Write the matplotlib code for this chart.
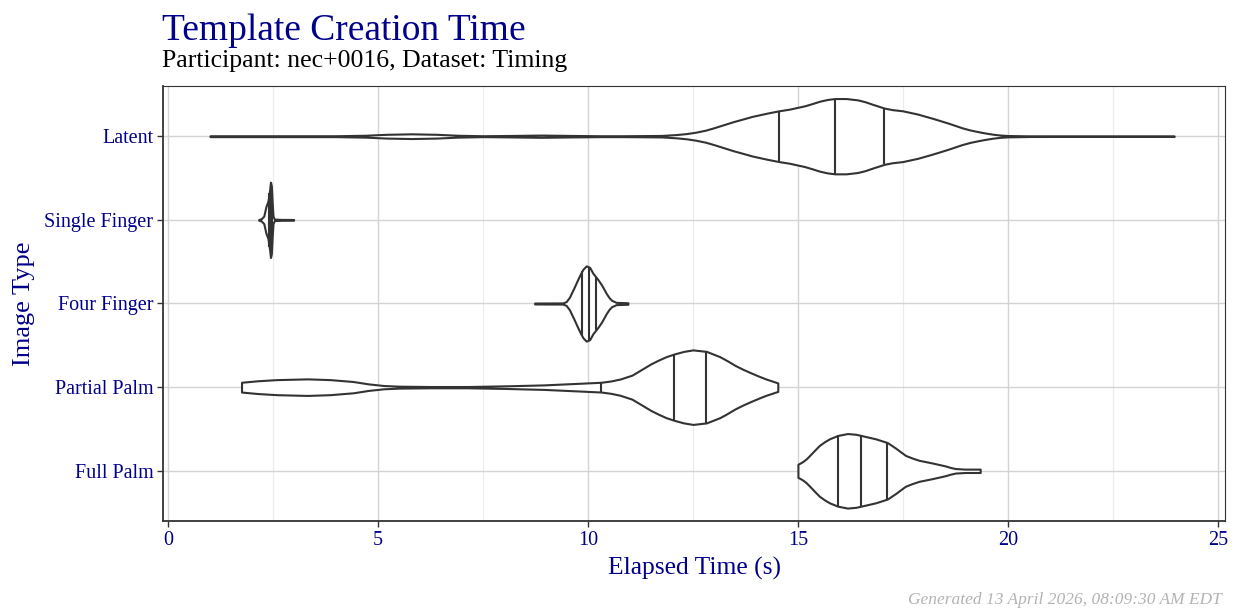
"""Violin plot of template creation time per image type"""
import matplotlib
matplotlib.use('Agg')
import matplotlib.pyplot as plt
import numpy as np

# categories, bottom to top
categories = ['Full Palm', 'Partial Palm', 'Four Finger', 'Single Finger', 'Latent']

# violin outlines: time (s) and relative half-width (max = 1)
latent_x = [1.0, 2.5, 4.0, 4.7, 5.2, 5.8, 6.4, 6.9, 7.5, 8.2, 8.9, 9.6, 10.3, 10.8,
            11.22, 11.76, 12.11, 12.35, 12.56, 12.8, 13.01, 13.23, 13.46, 13.7, 13.91,
            14.27, 14.55, 14.80, 15.16, 15.35, 15.52, 15.7, 15.88, 16.15, 16.42, 16.6,
            16.77, 17.06, 17.25, 17.49, 17.85, 18.21, 18.57, 18.92, 19.1, 19.28, 19.46,
            19.64, 19.82, 20.0, 20.54, 22.0, 23.96]
latent_w = [0.012, 0.012, 0.012, 0.025, 0.05, 0.063, 0.05, 0.025, 0.012, 0.02, 0.03,
            0.02, 0.012, 0.012, 0.015, 0.02, 0.044, 0.07, 0.105, 0.16, 0.228, 0.305,
            0.386, 0.46, 0.526, 0.614, 0.675, 0.719, 0.807, 0.87, 0.93, 0.975, 1.0,
            1.0, 0.965, 0.915, 0.85, 0.746, 0.705, 0.675, 0.588, 0.474, 0.35, 0.219,
            0.165, 0.123, 0.085, 0.053, 0.03, 0.018, 0.008, 0.006, 0.005]

single_x = [2.16, 2.22, 2.28, 2.33, 2.38, 2.42, 2.44, 2.46, 2.48, 2.50, 2.53, 2.7, 2.99]
single_w = [0.01, 0.03, 0.1, 0.35, 0.5, 0.8, 1.0, 0.9, 0.45, 0.1, 0.02, 0.012, 0.01]

four_x = [8.73, 9.40, 9.48, 9.56, 9.62, 9.68, 9.74, 9.80, 9.88, 9.96, 10.04, 10.12,
          10.24, 10.32, 10.38, 10.44, 10.50, 10.56, 10.67, 10.95]
four_w = [0.012, 0.015, 0.05, 0.17, 0.31, 0.45, 0.6, 0.74, 0.91, 1.0, 0.96, 0.8, 0.63,
          0.5, 0.38, 0.26, 0.16, 0.087, 0.03, 0.02]

partial_x = [1.75, 2.14, 2.59, 3.32, 3.86, 4.41, 4.77, 5.14, 5.5, 6.23, 7.14, 8.05,
             8.95, 10.0, 10.32, 10.55, 10.77, 11.05, 11.32, 11.5, 11.68, 11.86, 12.05,
             12.28, 12.5, 12.82, 13.14, 13.32, 13.5, 13.68, 13.86, 14.05, 14.23, 14.52]
partial_w = [0.13, 0.17, 0.2, 0.22, 0.2, 0.15, 0.087, 0.043, 0.026, 0.017, 0.017, 0.035,
             0.06, 0.113, 0.13, 0.165, 0.217, 0.32, 0.5, 0.62, 0.72, 0.81, 0.88, 0.95,
             0.99, 0.95, 0.81, 0.7, 0.58, 0.48, 0.39, 0.3, 0.22, 0.113]

full_x = [15.0, 15.06, 15.12, 15.2, 15.28, 15.4, 15.51, 15.63, 15.75, 15.95, 16.18,
          16.38, 16.5, 16.85, 17.13, 17.33, 17.45, 17.56, 17.72, 17.88, 18.19, 18.51,
          18.63, 18.75, 18.98, 19.34]
full_w = [0.175, 0.21, 0.25, 0.32, 0.41, 0.55, 0.675, 0.77, 0.85, 0.94, 0.99, 0.97,
          0.94, 0.85, 0.75, 0.6, 0.5, 0.41, 0.34, 0.28, 0.21, 0.13, 0.09, 0.06,
          0.045, 0.045]

# quartiles (25%, 50%, 75%)
quartiles = {
    'Full Palm': [15.95, 16.5, 17.13],
    'Partial Palm': [10.32, 12.05, 12.82],
    'Four Finger': [9.86, 10.02, 10.18],
    'Single Finger': [2.41, 2.44, 2.47],
    'Latent': [14.55, 15.88, 17.06],
}

x_ticks = [0, 5, 10, 15, 20, 25]

profiles = {
    'Full Palm': (full_x, full_w),
    'Partial Palm': (partial_x, partial_w),
    'Four Finger': (four_x, four_w),
    'Single Finger': (single_x, single_w),
    'Latent': (latent_x, latent_w),
}

NAVY = '#00008B'
EDGE = '#333333'
FONT = 'Liberation Serif'
HALF = 0.45  # max half width of a violin

fig = plt.figure(figsize=(12.33, 6.11), dpi=100)
ax = fig.add_axes([163 / 1233, 1 - 521 / 611, 1062 / 1233, 435 / 611])

for pos, name in enumerate(categories, start=1):
    xs, ws = profiles[name]
    xs = np.array(xs)
    ws = np.array(ws) * HALF
    ax.fill_between(xs, pos - ws, pos + ws, facecolor='white', edgecolor=EDGE,
                    linewidth=1.5, joinstyle='round', zorder=3)
    for q in quartiles[name]:
        wq = np.interp(q, xs, ws)
        ax.vlines(q, pos - wq, pos + wq, color=EDGE, linewidth=1.5, zorder=4)

ax.set_xlim(-0.12, 25.17)
ax.set_ylim(0.4, 5.6)
ax.set_xticks(x_ticks)
ax.set_xticks(np.arange(2.5, 25, 5), minor=True)
ax.set_yticks(range(1, len(categories) + 1))
ax.set_yticklabels(categories)

ax.grid(which='major', color='#d4d4d4', linewidth=1.0, zorder=0)
ax.grid(which='minor', axis='x', color='#ebebeb', linewidth=0.8, zorder=0)
ax.set_axisbelow(True)

for side in ['top', 'right']:
    ax.spines[side].set_color(EDGE)
    ax.spines[side].set_linewidth(0.8)
for side in ['bottom', 'left']:
    ax.spines[side].set_color(EDGE)
    ax.spines[side].set_linewidth(1.3)

ax.tick_params(which='major', length=4, width=1.0, color=EDGE, labelcolor=NAVY,
               labelsize=14.5, pad=3)
ax.tick_params(which='minor', length=0)
for lab in ax.get_xticklabels() + ax.get_yticklabels():
    lab.set_fontfamily(FONT)

fig.text(162 / 1233, 1 - 39.5 / 611, 'Template Creation Time', color=NAVY,
         fontsize=27, family=FONT, va='baseline', ha='left')
fig.text(162 / 1233, 1 - 67 / 611, 'Participant: nec+0016, Dataset: Timing', color='black',
         fontsize=18.5, family=FONT, va='baseline', ha='left')
fig.text((163 + 1225) / 2 / 1233, 1 - 575 / 611, 'Elapsed Time (s)', color=NAVY,
         fontsize=18.4, family=FONT, va='baseline', ha='center')
fig.text(30 / 1233, 1 - 304 / 611, 'Image Type', color=NAVY, rotation=90,
         fontsize=19, family=FONT, va='baseline', ha='center', rotation_mode='anchor')
fig.text(1222 / 1233, 1 - 604 / 611, 'Generated 13 April 2026, 08:09:30 AM EDT',
         color='#b3b3b3', fontsize=12.5, family=FONT, style='italic',
         va='baseline', ha='right')

fig.savefig('out.png', dpi=100)
